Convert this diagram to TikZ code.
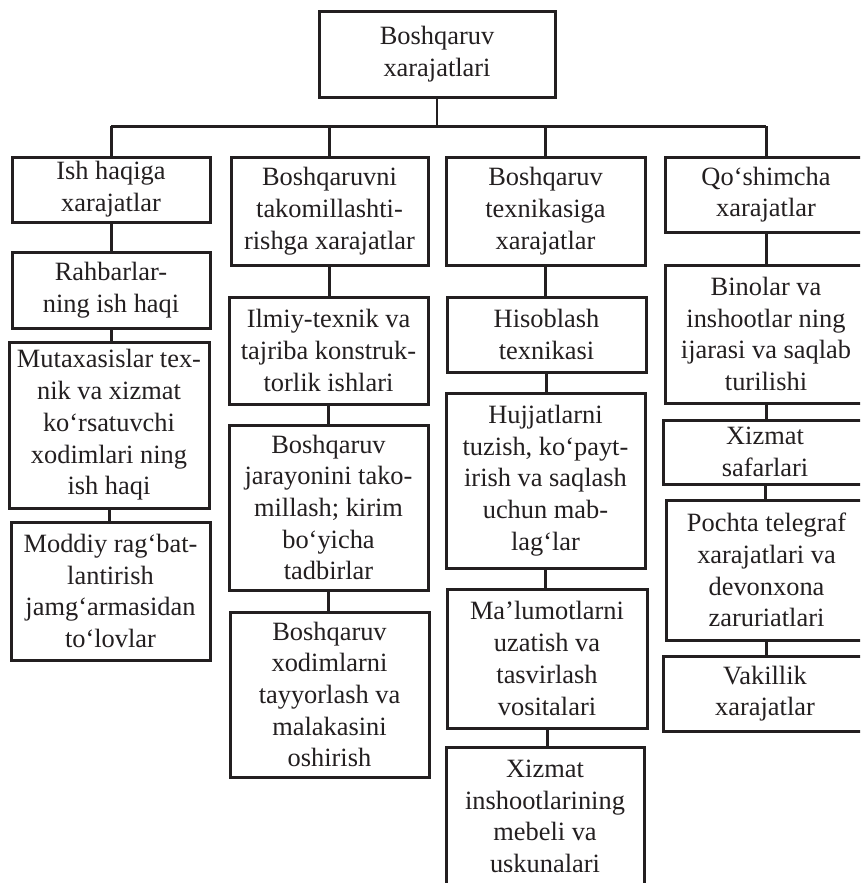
\documentclass[tikz,border=0pt]{standalone}
\usepackage{fontspec}
\setmainfont{Liberation Serif}
\definecolor{ink}{HTML}{231F20}
\begin{document}
\begin{tikzpicture}[x=1pt,y=-1pt,
  box/.style={draw=ink, line width=3pt, fill=white, text=ink, align=center,
    inner sep=0pt, font=\fontsize{26.4}{31.7}\selectfont},
  link/.style={draw=ink, line width=3pt},
  thinlink/.style={draw=ink, line width=1.5pt}]
\useasboundingbox (0,0) rectangle (860,883);
\clip (0,0) rectangle (860,883);
% top
\node[box, minimum width=236pt, minimum height=85pt] (top) at (437,54.5) {Boshqaruv\\xarajatlari};
% column 1
\node[box, minimum width=198pt, minimum height=65pt] (c1) at (111,189.5) {Ish haqiga\\xarajatlar};
\node[box, minimum width=198pt, minimum height=76pt] (c1a) at (111,290) {Rahbarlar-\\ning ish haqi};
\node[box, minimum width=200pt, minimum height=166pt] (c1b) at (109,425) {Mutaxasislar tex-\\nik va xizmat\\ko‘rsatuvchi\\xodimlari ning\\ish haqi};
\node[box, minimum width=199pt, minimum height=138pt] (c1c) at (110.5,591) {Moddiy rag‘bat-\\lantirish\\jamg‘armasidan\\to‘lovlar};
% column 2
\node[box, minimum width=197pt, minimum height=108pt] (c2) at (329.5,211) {Boshqaruvni\\takomillashti-\\rishga xarajatlar};
\node[box, minimum width=199pt, minimum height=107pt] (c2a) at (328.5,350.5) {Ilmiy-texnik va\\tajriba konstruk-\\torlik ishlari};
\node[box, minimum width=199pt, minimum height=165pt] (c2b) at (328.5,507.5) {Boshqaruv\\jarayonini tako-\\millash; kirim\\bo‘yicha\\tadbirlar};
\node[box, minimum width=199pt, minimum height=165pt] (c2c) at (329.5,694.5) {Boshqaruv\\xodimlarni\\tayyorlash va\\malakasini\\oshirish};
% column 3
\node[box, minimum width=199pt, minimum height=108pt] (c3) at (545.5,211) {Boshqaruv\\texnikasiga\\xarajatlar};
\node[box, minimum width=199pt, minimum height=75pt] (c3a) at (546.5,334.5) {Hisoblash\\texnikasi};
\node[box, minimum width=199pt, minimum height=175pt] (c3b) at (545.5,480.5) {Hujjatlarni\\tuzish, ko‘payt-\\irish va saqlash\\uchun mab-\\lag‘lar};
\node[box, minimum width=200pt, minimum height=139pt] (c3c) at (547,658.5) {Ma’lumotlarni\\uzatish va\\tasvirlash\\vositalari};
\node[box, minimum width=198pt, minimum height=139pt] (c3d) at (545,816.5) {Xizmat\\inshootlarining\\mebeli va\\uskunalari};
% column 4
\node[box, minimum width=202pt, minimum height=75pt] (c4) at (766,194.5) {Qo‘shimcha\\xarajatlar};
\node[box, minimum width=202pt, minimum height=138pt] (c4a) at (766,334) {Binolar va\\inshootlar ning\\ijarasi va saqlab\\turilishi};
\node[box, minimum width=204pt, minimum height=64pt] (c4b) at (765,452) {Xizmat\\safarlari};
\node[box, minimum width=201pt, minimum height=140pt] (c4c) at (766.5,570) {Pochta telegraf\\xarajatlari va\\devonxona\\zaruriatlari};
\node[box, minimum width=204pt, minimum height=75pt] (c4d) at (765,693.5) {Vakillik\\xarajatlar};
% connectors
\coordinate (bar) at (0,126);
\draw[thinlink] (top.south) -- (top.south |- bar);
\draw[link] (c1.north |- bar) -- (c4.north |- bar);
\foreach \n in {c1,c2,c3,c4} {\draw[link] (\n.north) -- (\n.north |- bar);}
\draw[link] (c1.south) -- (c1.south |- c1a.north);
\draw[link] (c1a.south) -- (c1a.south |- c1b.north);
\draw[link] (c1b.south) -- (c1b.south |- c1c.north);
\draw[link] (c2.south) -- (c2.south |- c2a.north);
\draw[link] (c2a.south) -- (c2a.south |- c2b.north);
\draw[link] (c2b.south) -- (c2b.south |- c2c.north);
\draw[link] (c3.south) -- (c3.south |- c3a.north);
\draw[link] (c3a.south) -- (c3a.south |- c3b.north);
\draw[link] (c3b.south) -- (c3b.south |- c3c.north);
\draw[link] (c3c.south) -- (c3c.south |- c3d.north);
\draw[link] (c4.south) -- (c4.south |- c4a.north);
\draw[link] (c4a.south) -- (c4a.south |- c4b.north);
\draw[link] (c4b.south) -- (c4b.south |- c4c.north);
\draw[link] (c4c.south) -- (c4c.south |- c4d.north);
\end{tikzpicture}
\end{document}
